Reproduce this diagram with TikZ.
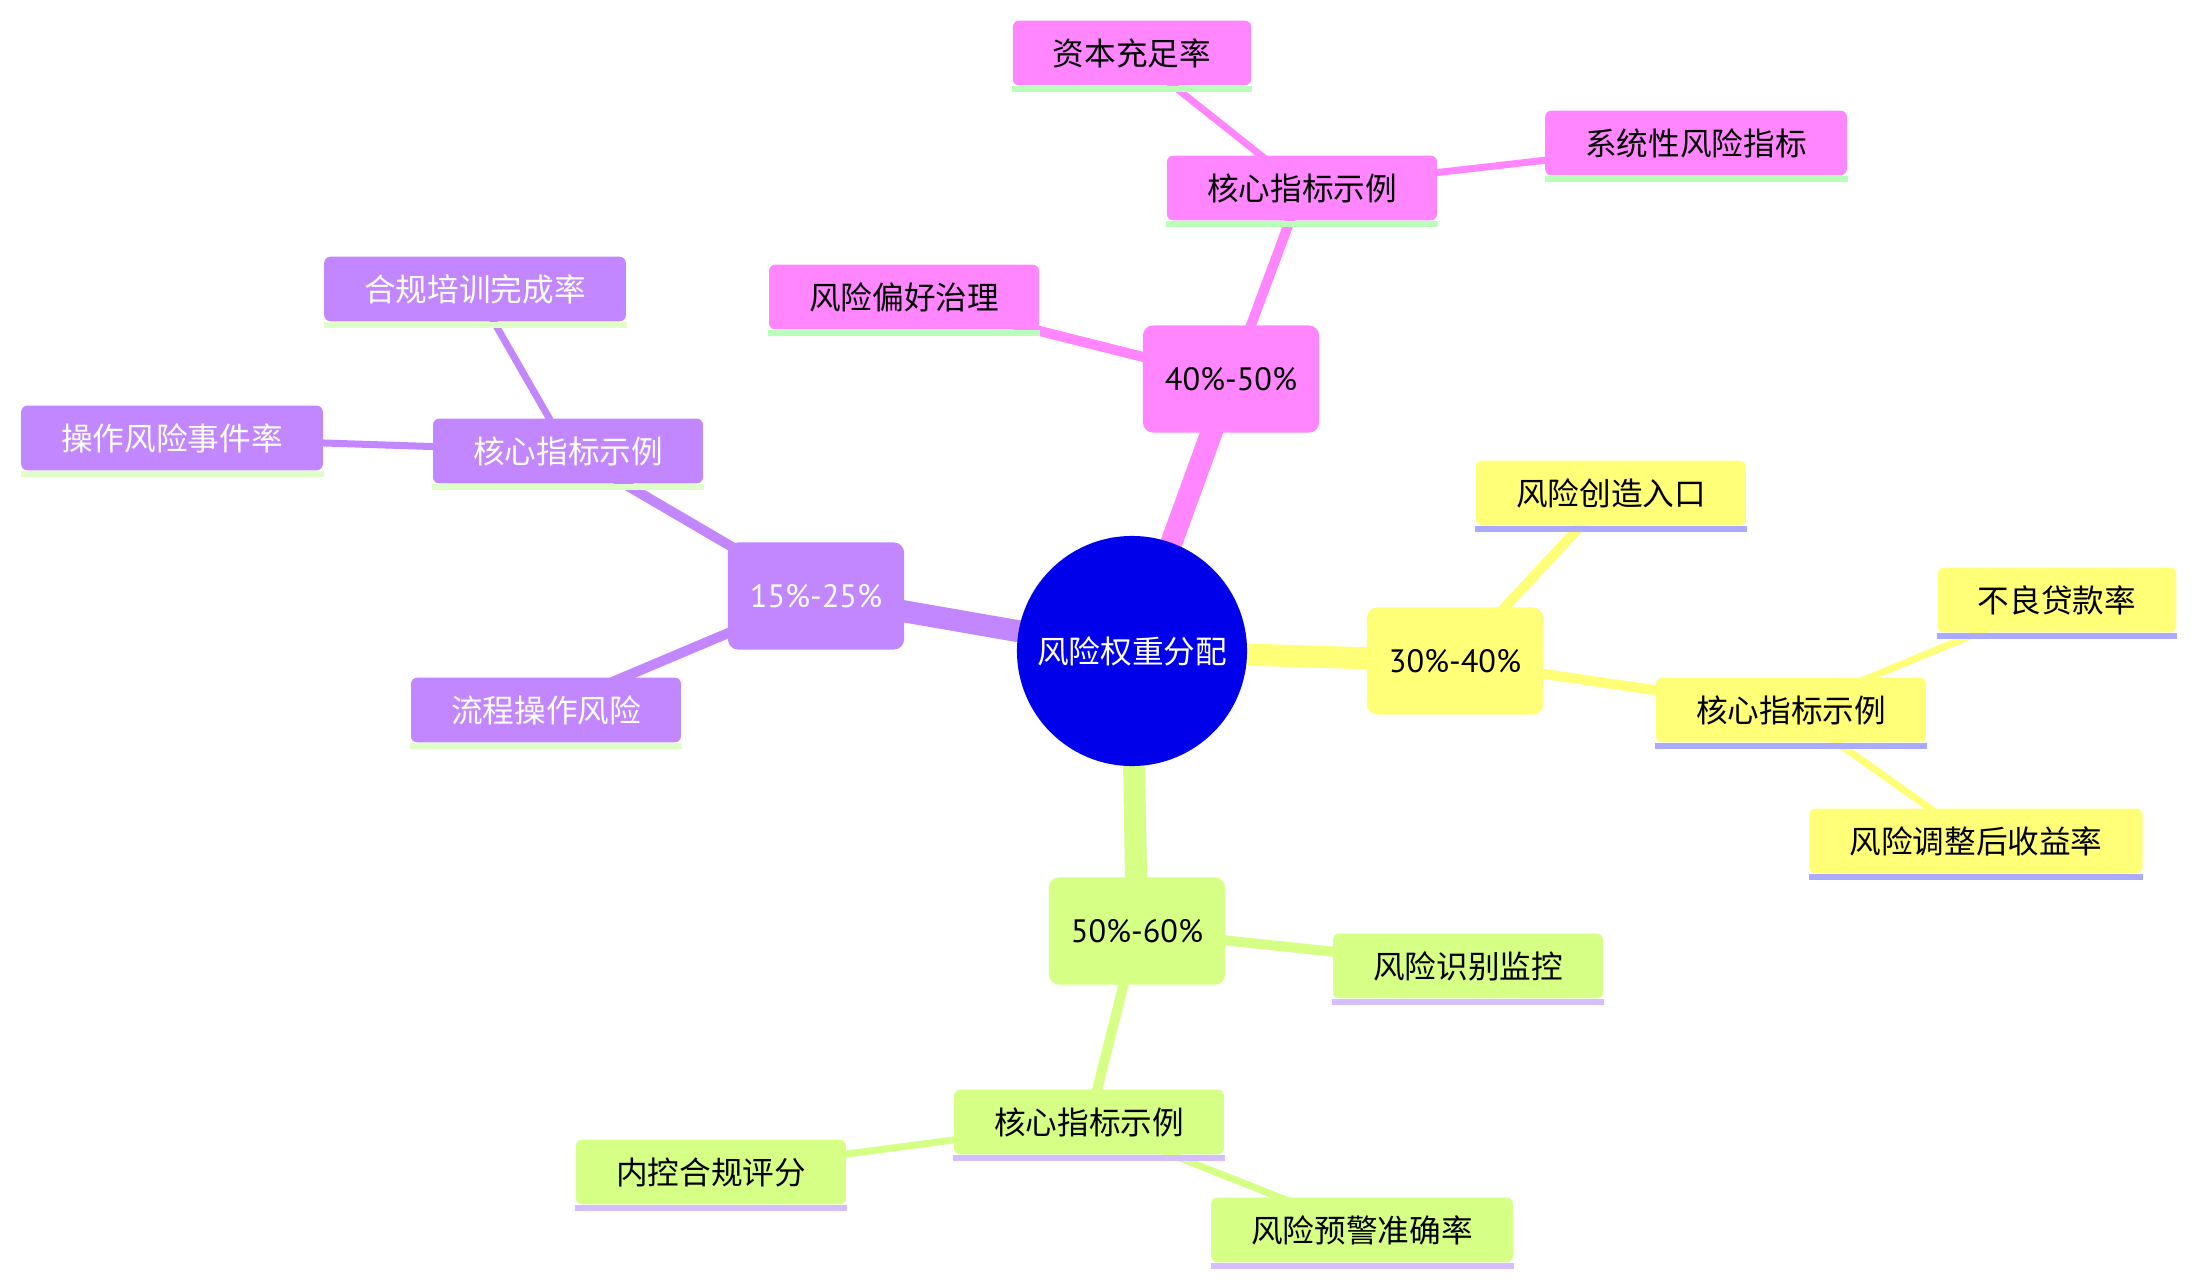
\documentclass[tikz,border=0pt]{standalone}
\usepackage{fontspec}
\setmainfont{Noto Sans CJK SC}
\newfontfamily\latf{PT Sans}
\usetikzlibrary{backgrounds}
\definecolor{rootblue}{RGB}{0,0,234}
\definecolor{pnk}{RGB}{255,134,255}
\definecolor{pur}{RGB}{194,134,255}
\definecolor{yel}{RGB}{255,255,120}
\definecolor{grn}{RGB}{214,255,134}
\definecolor{pnks}{RGB}{185,255,185}
\definecolor{purs}{RGB}{222,255,200}
\definecolor{yels}{RGB}{170,170,255}
\definecolor{grns}{RGB}{212,190,255}
\begin{document}
\begin{tikzpicture}[x=0.01cm,y=-0.01cm,
  every node/.style={font=\fontsize{9}{11}\selectfont},
  leafbox/.style={rectangle, rounded corners=0.06cm, fill=#1, minimum height=0.645cm, inner xsep=0.4cm, inner ysep=0pt},
  midbox/.style={rectangle, rounded corners=0.1cm, fill=#1, minimum width=1.76cm, minimum height=1.07cm, inner sep=0pt, font=\latf\fontsize{9.2}{11}\selectfont},
  rootedge/.style={line width=0.22cm, draw=#1},
  midedge/.style={line width=0.1cm, draw=#1},
  leafedge/.style={line width=0.07cm, draw=#1}
]
\useasboundingbox (0,0) rectangle (2196,1285);

% root
\node[circle, fill=rootblue, minimum size=2.3cm, inner sep=0pt, text=white] (root) at (1132,651) {风险权重分配};

% pink section
\node[midbox=pnk] (p) at (1231,379) {40\%-50\%};
\node[leafbox=pnk] (pk) at (1302,188) {核心指标示例};
\node[leafbox=pnk] (p1) at (1132,53) {资本充足率};
\node[leafbox=pnk] (p2) at (1696,143) {系统性风险指标};
\node[leafbox=pnk] (p3) at (904,297) {风险偏好治理};

% purple section
\node[midbox=pur, text=white] (u) at (816,596) {15\%-25\%};
\node[leafbox=pur, text=white] (uk) at (568,451) {核心指标示例};
\node[leafbox=pur, text=white] (u1) at (475,289) {合规培训完成率};
\node[leafbox=pur, text=white] (u2) at (172,438) {操作风险事件率};
\node[leafbox=pur, text=white] (u3) at (546,710) {流程操作风险};

% yellow section
\node[midbox=yel] (y) at (1455,661) {30\%-40\%};
\node[leafbox=yel] (yk) at (1791,710) {核心指标示例};
\node[leafbox=yel] (y1) at (1611,493) {风险创造入口};
\node[leafbox=yel] (y2) at (2057,600) {不良贷款率};
\node[leafbox=yel] (y3) at (1976,841) {风险调整后收益率};

% green section
\node[midbox=grn] (g) at (1137,931) {50\%-60\%};
\node[leafbox=grn] (g1) at (1468,966) {风险识别监控};
\node[leafbox=grn] (gk) at (1089,1122) {核心指标示例};
\node[leafbox=grn] (g2) at (711,1172) {内控合规评分};
\node[leafbox=grn] (g3) at (1362,1230) {风险预警准确率};

% underline strips
\foreach \n/\c in {pk/pnks,p1/pnks,p2/pnks,p3/pnks,
                   uk/purs,u1/purs,u2/purs,u3/purs,
                   yk/yels,y1/yels,y2/yels,y3/yels,
                   gk/grns,g1/grns,g2/grns,g3/grns}
  \fill[\c] (\n.south west) rectangle ([yshift=-0.06cm]\n.south east);

% connectors
\begin{scope}[on background layer]
  \draw[rootedge=pnk] (root.center) -- (p.center);
  \draw[rootedge=pur] (root.center) -- (u.center);
  \draw[rootedge=yel] (root.center) -- (y.center);
  \draw[rootedge=grn] (root.center) -- (g.center);

  \draw[midedge=pnk] (p.center) -- (pk.center);
  \draw[midedge=pnk] (p.center) -- (p3.center);
  \draw[leafedge=pnk] (pk.center) -- (p1.center);
  \draw[leafedge=pnk] (pk.center) -- (p2.center);

  \draw[midedge=pur] (u.center) -- (uk.center);
  \draw[midedge=pur] (u.center) -- (u3.center);
  \draw[leafedge=pur] (uk.center) -- (u1.center);
  \draw[leafedge=pur] (uk.center) -- (u2.center);

  \draw[midedge=yel] (y.center) -- (yk.center);
  \draw[midedge=yel] (y.center) -- (y1.center);
  \draw[leafedge=yel] (yk.center) -- (y2.center);
  \draw[leafedge=yel] (yk.center) -- (y3.center);

  \draw[midedge=grn] (g.center) -- (gk.center);
  \draw[midedge=grn] (g.center) -- (g1.center);
  \draw[leafedge=grn] (gk.center) -- (g2.center);
  \draw[leafedge=grn] (gk.center) -- (g3.center);
\end{scope}
\end{tikzpicture}
\end{document}
